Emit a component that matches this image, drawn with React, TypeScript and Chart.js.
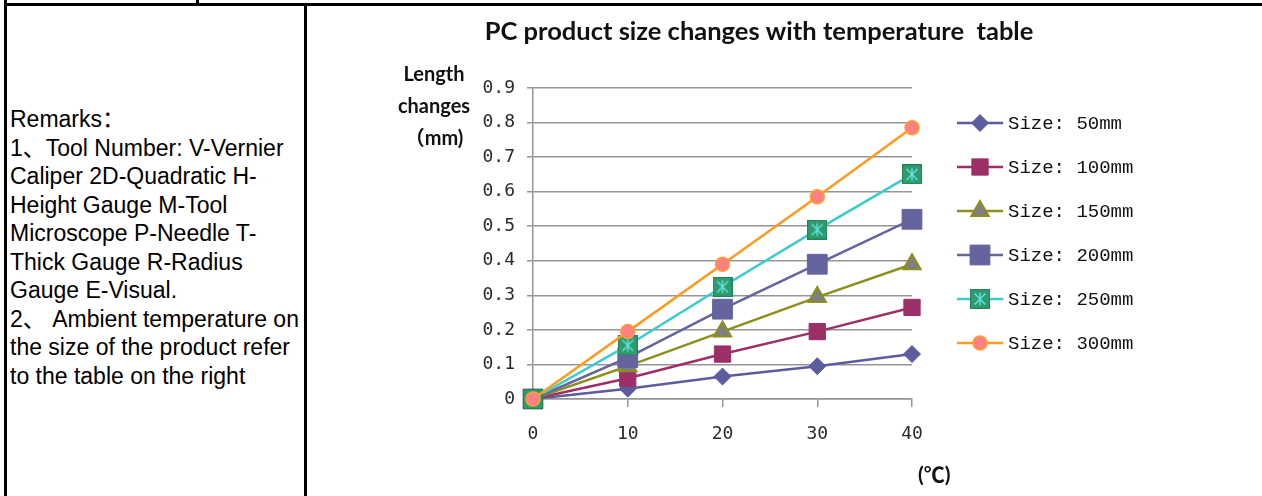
import React, { useEffect, useRef } from 'react';
import { Chart, registerables } from 'chart.js';
import { drawPoint } from 'chart.js/helpers';

Chart.register(...registerables);

// Temperature (°C) along the x axis
const temperatures = [0, 10, 20, 30, 40];

// Length change (mm) per product size
const size50 = [0, 0.03, 0.065, 0.095, 0.13];
const size100 = [0, 0.06, 0.13, 0.195, 0.265];
const size150 = [0, 0.095, 0.195, 0.295, 0.39];
const size200 = [0, 0.12, 0.26, 0.39, 0.52];
const size250 = [0, 0.155, 0.325, 0.49, 0.65];
const size300 = [0, 0.195, 0.39, 0.585, 0.785];

const seriesLabels = [
  'Size: 50mm',
  'Size: 100mm',
  'Size: 150mm',
  'Size: 200mm',
  'Size: 250mm',
  'Size: 300mm',
];

const chartTitle = 'PC product size changes with temperature  table';
const yTitleLines = ['Length', 'changes', '（mm)'];
const xUnit = '(℃)';

const remarkLines = [
  'Remarks：',
  '1、Tool Number: V-Vernier',
  'Caliper 2D-Quadratic H-',
  'Height Gauge M-Tool',
  'Microscope P-Needle T-',
  'Thick Gauge R-Radius',
  'Gauge E-Visual.',
  '2、 Ambient temperature on',
  'the size of the product refer',
  'to the table on the right',
];

const GRID = '#959595';
const TICK_FONT = "'DejaVu Sans Mono', 'Liberation Mono', monospace";
const LEGEND_FONT = "'Liberation Mono', 'DejaVu Sans Mono', monospace";
const BOLD_FONT = "Lato, 'Noto Sans CJK SC', sans-serif";

// Green square marker with a cyan asterisk
function makeStarSquare(side: number): HTMLCanvasElement {
  const c = document.createElement('canvas');
  c.width = side;
  c.height = side;
  const g = c.getContext('2d')!;
  g.fillStyle = '#2f9b6c';
  g.fillRect(0, 0, side, side);
  g.strokeStyle = '#24805a';
  g.lineWidth = 1;
  g.strokeRect(0.5, 0.5, side - 1, side - 1);
  g.strokeStyle = '#62e2e2';
  g.lineWidth = 1.4;
  const m = side / 2;
  const a = side * 0.27;
  g.beginPath();
  g.moveTo(m - a, m - a);
  g.lineTo(m + a, m + a);
  g.moveTo(m + a, m - a);
  g.lineTo(m - a, m + a);
  g.moveTo(m, m - a - 1);
  g.lineTo(m, m + a + 1);
  g.stroke();
  return c;
}

const sheetTextPlugin = {
  id: 'sheetText',
  afterDraw(chart: any) {
    const ctx: CanvasRenderingContext2D = chart.ctx;
    const area = chart.chartArea;
    ctx.save();

    // Chart title
    ctx.fillStyle = '#111';
    ctx.textAlign = 'center';
    ctx.textBaseline = 'alphabetic';
    ctx.font = `bold 25.5px ${BOLD_FONT}`;
    ctx.fillText(chartTitle, 452, 34);

    // Vertical axis caption, stacked horizontally
    ctx.font = `bold 20px ${BOLD_FONT}`;
    yTitleLines.forEach((t, i) => ctx.fillText(t, area.left - 99, 75 + i * 32));

    // Unit under the x axis
    ctx.textAlign = 'left';
    ctx.font = `bold 21px ${BOLD_FONT}`;
    ctx.fillText(xUnit, area.right + 6, 476);

    // Legend: line segment with marker, then label
    const lx = area.right + 45;
    chart.data.datasets.forEach((ds: any, i: number) => {
      const y = 117 + i * 44;
      ctx.strokeStyle = ds.borderColor;
      ctx.lineWidth = 2.5;
      ctx.beginPath();
      ctx.moveTo(lx, y);
      ctx.lineTo(lx + 46, y);
      ctx.stroke();
      ctx.fillStyle = ds.pointBackgroundColor;
      ctx.strokeStyle = ds.pointBorderColor;
      ctx.lineWidth = ds.pointBorderWidth;
      drawPoint(
        ctx,
        { pointStyle: ds.pointStyle, rotation: 0, radius: ds.pointRadius, borderWidth: ds.pointBorderWidth },
        lx + 23,
        y
      );
      ctx.fillStyle = '#111';
      ctx.font = `19px ${LEGEND_FONT}`;
      ctx.textAlign = 'left';
      ctx.textBaseline = 'middle';
      ctx.fillText(ds.label, lx + 51, y + 1);
    });

    ctx.restore();
  },
};

export default function App() {
  const canvasRef = useRef<HTMLCanvasElement | null>(null);

  useEffect(() => {
    const canvas = canvasRef.current;
    if (!canvas) return;
    const star = makeStarSquare(20);

    const series = [
      { data: size50, line: '#5c5c9f', fill: '#5c5c9f', edge: '#5c5c9f', style: 'rectRot', r: 8.5, bw: 1 },
      { data: size100, line: '#9c2f67', fill: '#9c2f67', edge: '#9c2f67', style: 'rect', r: 11.5, bw: 1 },
      { data: size150, line: '#8e8e1c', fill: '#7f7f82', edge: '#8e8e1c', style: 'triangle', r: 10, bw: 2 },
      { data: size200, line: '#64649e', fill: '#64649e', edge: '#64649e', style: 'rect', r: 14, bw: 1 },
      { data: size250, line: '#3acccc', fill: '#2f9b6c', edge: '#2f9b6c', style: star as any, r: 10, bw: 0 },
      { data: size300, line: '#ff9a1e', fill: '#ff8080', edge: '#ffa030', style: 'circle', r: 7, bw: 1.5 },
    ];

    const chart = new Chart(canvas, {
      type: 'line',
      data: {
        labels: temperatures.map(String),
        datasets: series.map((s, i) => ({
          label: seriesLabels[i],
          data: s.data,
          borderColor: s.line,
          backgroundColor: s.fill,
          borderWidth: 2.5,
          pointBackgroundColor: s.fill,
          pointBorderColor: s.edge,
          pointBorderWidth: s.bw,
          pointStyle: s.style,
          pointRadius: s.r,
          tension: 0,
          clip: false as any,
          order: series.length - 1 - i,
        })),
      },
      options: {
        responsive: false,
        animation: false,
        events: [],
        layout: { padding: { left: 166, right: 350, top: 82, bottom: 47 }, autoPadding: false },
        plugins: {
          legend: { display: false },
          title: { display: false },
          tooltip: { enabled: false },
        },
        scales: {
          x: {
            ticks: { padding: 17, color: '#2a2a2a', font: { family: TICK_FONT, size: 18 } },
            grid: { drawOnChartArea: false, drawTicks: true, tickLength: 8, color: GRID, lineWidth: 1.5 },
            border: { display: true, color: GRID, width: 1.5 },
            afterFit: (s: any) => {
              s.height = 50;
            },
          },
          y: {
            min: 0,
            max: 0.9,
            ticks: {
              stepSize: 0.1,
              padding: 12,
              color: '#2a2a2a',
              font: { family: TICK_FONT, size: 18 },
              callback: (v: any) => (Number(v) === 0 ? '0' : Number(v).toFixed(1)),
            },
            grid: { color: GRID, lineWidth: 1.5, tickLength: 6, drawTicks: true },
            border: { display: true, color: GRID, width: 1.5 },
            afterFit: (s: any) => {
              s.width = 60;
            },
          },
        },
      },
      plugins: [sheetTextPlugin],
    });

    return () => chart.destroy();
  }, []);

  return (
    <div
      style={{
        position: 'fixed',
        left: 0,
        top: 0,
        width: 1262,
        height: 496,
        background: '#fff',
        overflow: 'hidden',
      }}
    >
      {/* cell borders */}
      <div style={{ position: 'absolute', left: 4, top: 0, width: 3, height: 496, background: '#000' }} />
      <div style={{ position: 'absolute', left: 196, top: 0, width: 3, height: 4, background: '#000' }} />
      <div style={{ position: 'absolute', left: 4, top: 3, width: 1258, height: 3, background: '#000' }} />
      <div style={{ position: 'absolute', left: 304, top: 3, width: 3, height: 493, background: '#000' }} />

      {/* remarks cell */}
      <div
        style={{
          position: 'absolute',
          left: 10,
          top: 105,
          fontFamily: "'Liberation Sans', Arial, 'Noto Sans CJK SC', sans-serif",
          fontSize: 23,
          lineHeight: '28.5px',
          color: '#000',
          whiteSpace: 'nowrap',
        }}
      >
        {remarkLines.map((t, i) => (
          <div key={i}>{t}</div>
        ))}
      </div>

      {/* chart cell */}
      <canvas
        ref={canvasRef}
        width={955}
        height={490}
        style={{ position: 'absolute', left: 307, top: 6, width: 955, height: 490 }}
      />
    </div>
  );
}
